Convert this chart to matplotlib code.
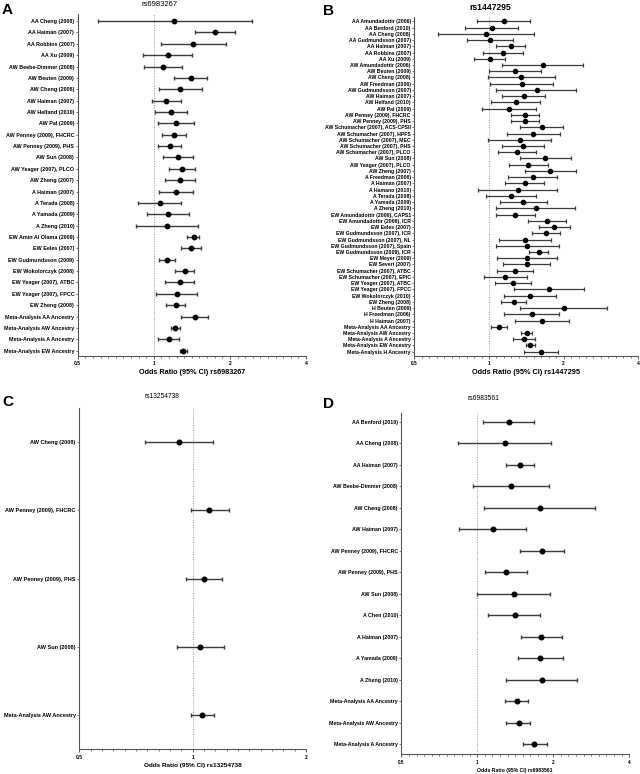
import numpy as np
import matplotlib
matplotlib.use('Agg')
import matplotlib.pyplot as plt
from matplotlib.ticker import FixedLocator, FixedFormatter

plt.rcParams['font.family'] = ['Liberation Sans', 'DejaVu Sans']
plt.rcParams['font.weight'] = 'bold'

# Panel A: rs6983267
a_labels = ['AA Cheng (2008)', 'AA Haiman (2007)', 'AA Robbins (2007)', 'AA Xu (2009)',
            'AW Beebe-Dimmer (2008)', 'AW Beuten (2009)', 'AW Cheng (2008)', 'AW Haiman (2007)',
            'AW Helfand (2010)', 'AW Pal (2009)', 'AW Penney (2009), FHCRC', 'AW Penney (2009), PHS',
            'AW Sun (2008)', 'AW Yeager (2007), PLCO', 'AW Zheng (2007)', 'A Haiman (2007)',
            'A Terada (2008)', 'A Yamada (2009)', 'A Zheng (2010)', 'EW Amin Al Olama (2009)',
            'EW Eeles (2007)', 'EW Gudmundsson (2009)', 'EW Wokolorczyk (2008)', 'EW Yeager (2007), ATBC',
            'EW Yeager (2007), FPCC', 'EW Zheng (2008)', 'Meta-Analysis AA Ancestry',
            'Meta-Analysis AW Ancestry', 'Meta-Analysis A Ancestry', 'Meta-Analysis EW Ancestry']
a_or = [1.207, 1.753, 1.435, 1.139, 1.089, 1.40, 1.275, 1.122, 1.171, 1.222, 1.199, 1.157,
        1.252, 1.298, 1.271, 1.225, 1.056, 1.139, 1.126, 1.439, 1.409, 1.129, 1.326, 1.267,
        1.233, 1.225, 1.452, 1.218, 1.150, 1.306]
a_lo = [0.599, 1.457, 1.066, 0.905, 0.913, 1.207, 1.053, 0.985, 1.015, 1.037, 1.079, 1.037,
        1.085, 1.153, 1.105, 1.047, 0.867, 0.944, 0.851, 1.358, 1.286, 1.053, 1.211, 1.105,
        1.024, 1.122, 1.278, 1.171, 1.040, 1.267]
a_hi = [2.44, 2.10, 1.93, 1.422, 1.298, 1.625, 1.548, 1.278, 1.358, 1.439, 1.346, 1.286,
        1.43, 1.461, 1.452, 1.43, 1.282, 1.375, 1.497, 1.515, 1.543, 1.211, 1.448, 1.439,
        1.479, 1.326, 1.645, 1.271, 1.259, 1.35]

# Panel B: rs1447295
b_labels = ['AA Amundadottir (2006)', 'AA Benford (2010)', 'AA Cheng (2008)', 'AA Gudmundsson (2007)',
            'AA Haiman (2007)', 'AA Robbins (2007)', 'AA Xu (2009)', 'AW Amundadottir (2006)',
            'AW Beuten (2009)', 'AW Cheng (2008)', 'AW Freedman (2006)', 'AW Gudmundsson (2007)',
            'AW Haiman (2007)', 'AW Helfand (2010)', 'AW Pal (2009)', 'AW Penney (2009), FHCRC',
            'AW Penney (2009), PHS', 'AW Schumacher (2007), ACS-CPSII', 'AW Schumacher (2007), HPFS',
            'AW Schumacher (2007), MEC', 'AW Schumacher (2007), PHS', 'AW Schumacher (2007), PLCO',
            'AW Sun (2008)', 'AW Yeager (2007), PLCO', 'AW Zheng (2007)', 'A Freedman (2006)',
            'A Haiman (2007)', 'A Hamano (2010)', 'A Terada (2008)', 'A Yamada (2009)', 'A Zheng (2010)',
            'EW Amundadottir (2006), CAPS1', 'EW Amundadottir (2006), ICR', 'EW Eeles (2007)',
            'EW Gudmundsson (2007), ICR', 'EW Gudmundsson (2007), NL', 'EW Gudmundsson (2007), Spain',
            'EW Gudmundsson (2009), ICR', 'EW Meyer (2009)', 'EW Severi (2007)',
            'EW Schumacher (2007), ATBC', 'EW Schumacher (2007), EPIC', 'EW Yeager (2007), ATBC',
            'EW Yeager (2007), FPCC', 'EW Wokolorczyk (2010)', 'EW Zheng (2008)', 'H Beuten (2009)',
            'H Freedman (2006)', 'H Haiman (2007)', 'Meta-Analysis AA Ancestry',
            'Meta-Analysis AW Ancestry', 'Meta-Analysis A Ancestry', 'Meta-Analysis EW Ancestry',
            'Meta-Analysis H Ancestry']
b_or = [1.146, 1.028, 0.975, 1.009, 1.223, 1.142, 1.006, 1.646, 1.277, 1.350, 1.359, 1.557,
        1.380, 1.285, 1.204, 1.392, 1.401, 1.630, 1.509, 1.329, 1.371, 1.293, 1.687, 1.441,
        1.767, 1.505, 1.392, 1.305, 1.223, 1.375, 1.547, 1.277, 1.718, 1.834, 1.697, 1.392,
        1.428, 1.586, 1.419, 1.419, 1.277, 1.164, 1.250, 1.751, 1.459, 1.257, 2.006, 1.486,
        1.641, 1.101, 1.423, 1.384, 1.468, 1.615]
b_lo = [0.897, 0.800, 0.625, 0.813, 1.067, 0.949, 0.873, 1.128, 1.003, 0.988, 1.012, 1.067,
        1.132, 1.019, 0.937, 1.223, 1.223, 1.338, 1.178, 0.991, 1.125, 1.091, 1.329, 1.208,
        1.397, 1.197, 1.160, 0.903, 0.970, 1.104, 1.067, 1.067, 1.441, 1.586, 1.496, 1.097,
        1.064, 1.450, 1.074, 1.142, 1.080, 0.952, 1.057, 1.265, 1.146, 1.118, 1.338, 1.146,
        1.277, 1.019, 1.350, 1.250, 1.410, 1.380]
b_hi = [1.468, 1.313, 1.523, 1.253, 1.392, 1.371, 1.160, 2.40, 1.626, 1.851, 1.817, 2.249,
        1.682, 1.610, 1.552, 1.586, 1.596, 1.988, 1.927, 1.778, 1.666, 1.542, 2.147, 1.724,
        2.242, 1.886, 1.671, 1.886, 1.547, 1.718, 2.229, 1.528, 2.050, 2.121, 1.927, 1.772,
        1.917, 1.734, 1.880, 1.757, 1.509, 1.419, 1.477, 2.410, 1.862, 1.410, 3.000, 1.911,
        2.101, 1.178, 1.496, 1.537, 1.533, 1.898]

# Panel C: rs13254738
c_labels = ['AW Cheng (2008)', 'AW Penney (2009), FHCRC', 'AW Penney (2009), PHS',
            'AW Sun (2008)', 'Meta-Analysis AW Ancestry']
c_or = [0.920, 1.107, 1.070, 1.048, 1.057]
c_lo = [0.747, 0.988, 0.958, 0.907, 0.988]
c_hi = [1.130, 1.249, 1.199, 1.211, 1.139]

# Panel D: rs6983561
d_labels = ['AA Benford (2010)', 'AA Cheng (2008)', 'AA Haiman (2007)', 'AW Beebe-Dimmer (2008)',
            'AW Cheng (2008)', 'AW Haiman (2007)', 'AW Penney (2009), FHCRC', 'AW Penney (2009), PHS',
            'AW Sun (2008)', 'A Chen (2010)', 'A Haiman (2007)', 'A Yamada (2009)', 'A Zheng (2010)',
            'Meta-Analysis AA Ancestry', 'Meta-Analysis AW Ancestry', 'Meta-Analysis A Ancestry']
d_or = [1.335, 1.283, 1.471, 1.363, 1.766, 1.154, 1.804, 1.303, 1.393, 1.406, 1.793, 1.766,
        1.804, 1.436, 1.458, 1.682]
d_lo = [1.053, 0.841, 1.299, 0.961, 1.059, 0.849, 1.471, 1.069, 0.997, 1.105, 1.485, 1.445,
        1.299, 1.287, 1.299, 1.512]
d_hi = [1.682, 1.958, 1.672, 1.922, 2.916, 1.554, 2.211, 1.573, 1.946, 1.771, 2.165, 2.191,
        2.481, 1.592, 1.612, 1.882]

W, H = 640, 774
fig = plt.figure(figsize=(W / 100, H / 100), dpi=100)


def add_axes(left, top, right, bottom):
    return fig.add_axes([left / W, 1 - bottom / H, (right - left) / W, (bottom - top) / H])


def forest(ax, labels, orv, lo, hi, xmax, pad_top, pad_bot, lab_fs, tick_fs, xlab, xlab_fs,
           ms, lw, cap):
    orv = np.array(orv)
    lo = np.array(lo)
    hi = np.array(hi)
    y = np.arange(len(labels))
    ax.axvline(1, color='#9a9a9a', lw=0.7, ls=(0, (1, 1.5)), zorder=1)
    ax.errorbar(orv, y, xerr=[orv - lo, hi - orv], fmt='o', color='black', ms=ms,
                ecolor='#3c3c3c', elinewidth=lw, capsize=cap, capthick=lw, zorder=3)
    ax.set_xscale('log', base=2)
    ax.set_xlim(0.5, xmax)
    ax.set_ylim(len(labels) - 1 + pad_bot, -pad_top)
    major = [0.5, 1, 2, 4] if xmax > 2 else [0.5, 1, 2]
    ax.xaxis.set_major_locator(FixedLocator(major))
    ax.xaxis.set_major_formatter(FixedFormatter([('%g' % m) for m in major]))
    ndbl = int(round(np.log2(xmax / 0.5)))
    ax.xaxis.set_minor_locator(FixedLocator(0.5 * 2 ** (np.arange(0, ndbl * 10 + 1) / 10)))
    ax.xaxis.set_minor_formatter(FixedFormatter([]))
    ax.set_yticks(y)
    ax.set_yticklabels(labels, fontsize=lab_fs, fontweight='bold')
    ax.tick_params(axis='x', which='major', labelsize=tick_fs, length=2.5, width=0.6,
                   pad=1.5, color='#444444')
    ax.tick_params(axis='x', which='minor', length=1.5, width=0.5, color='#444444')
    ax.tick_params(axis='y', length=1.5, width=0.5, pad=1, color='#444444')
    for s in ['top', 'right']:
        ax.spines[s].set_visible(False)
    for s in ['left', 'bottom']:
        ax.spines[s].set_color('#555555')
        ax.spines[s].set_linewidth(0.8)
    ax.set_xlabel(xlab, fontsize=xlab_fs, fontweight='bold', labelpad=2)
    for t in ax.get_xticklabels():
        t.set_fontweight('bold')


axA = add_axes(77.7, 14, 306, 355.7)
forest(axA, a_labels, a_or, a_lo, a_hi, 4, 0.62, 0.44, 3.9, 3.6,
       'Odds Ratio (95% CI) rs6983267', 5.2, 3.2, 1.0, 1.5)
axB = add_axes(414.3, 17, 638.3, 355.7)
forest(axB, b_labels, b_or, b_lo, b_hi, 4, 0.7, 0.64, 3.7, 3.4,
       'Odds Ratio (95% CI) rs1447295', 5.3, 3.0, 0.9, 1.4)
axC = add_axes(79.3, 408, 306, 749.3)
forest(axC, c_labels, c_or, c_lo, c_hi, 2, 0.5, 0.5, 4.0, 3.6,
       'Odds Ratio (95% CI) rs13254738', 4.6, 3.3, 1.0, 1.5)
axD = add_axes(401.3, 412.7, 629.3, 754.3)
forest(axD, d_labels, d_or, d_lo, d_hi, 4, 0.43, 0.47, 3.8, 3.3,
       'Odds Ratio (95% CI) rs6983561', 3.7, 3.3, 1.0, 1.5)

# panel titles and letters
fig.text(160 / W, 1 - 5 / H, 'rs6983267', fontsize=5.5, fontweight='normal', ha='center', va='center')
fig.text(490 / W, 1 - 7.5 / H, 'rs1447295', fontsize=6.2, fontweight='bold', ha='center', va='center')
fig.text(162 / W, 1 - 396 / H, 'rs13254738', fontsize=4.8, fontweight='normal', ha='center', va='center')
fig.text(483 / W, 1 - 399 / H, 'rs6983561', fontsize=4.9, fontweight='normal', ha='center', va='center')

for letter, x, y in [('A', 2, 10), ('B', 323, 11), ('C', 2, 402), ('D', 323, 404)]:
    fig.text(x / W, 1 - y / H, letter, fontsize=11, fontweight='bold', ha='left', va='center')

fig.savefig('out.png', dpi=100)
